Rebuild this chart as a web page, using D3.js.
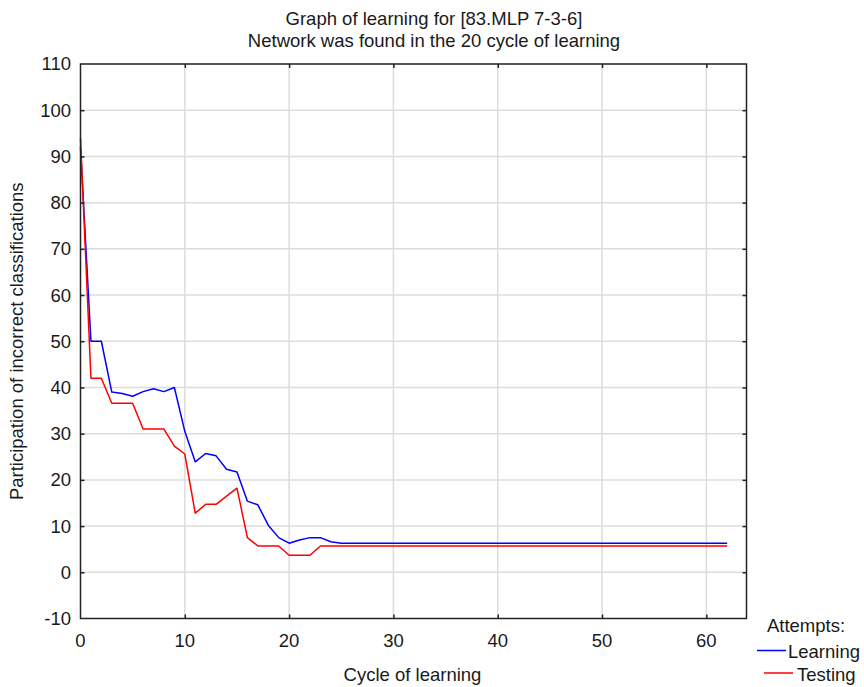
<!DOCTYPE html>
<html><head><meta charset="utf-8">
<script src="https://cdn.jsdelivr.net/npm/d3@7"></script>
<style>body{margin:0;background:#fff}svg{display:block}text{font-family:"Liberation Sans",Arial,sans-serif;fill:#1a1a1a}</style>
</head><body>
<svg id="c" width="864" height="687"></svg>
<script>
const cycles = d3.range(0, 63);
const learning = [92,50,50,39,38.7,38.1,39.1,39.7,39.1,40,30.5,23.9,25.7,25.2,22.3,21.7,15.4,14.6,10.2,7.5,6.3,7,7.5,7.5,6.6,6.3].concat(Array(37).fill(6.3));
const testing = [94,42,42,36.6,36.6,36.6,31,31,31,27.3,25.6,12.8,14.7,14.7,16.5,18.2,7.5,5.7,5.7,5.7,3.7,3.7,3.7,5.7].concat(Array(39).fill(5.7));
const xTicks = [0,10,20,30,40,50,60];
const yTicks = [-10,0,10,20,30,40,50,60,70,80,90,100,110];
const titleLines = ["Graph of learning for [83.MLP 7-3-6]","Network was found in the 20 cycle of learning"];
const xLabel = "Cycle of learning";
const yLabel = "Participation of incorrect classifications";
const legendTitle = "Attempts:";
const seriesNames = ["Learning","Testing"];
const seriesColors = ["#0000ff","#ff0000"];

const svg = d3.select("#c");
const L=80.5, R=746.5, T=64, B=618.5;
const x = d3.scaleLinear().domain([0,63.85]).range([L,R]);
const y = d3.scaleLinear().domain([-10,110]).range([B,T]);
const fs = 18.5;

// grid
svg.append("g").selectAll("line").data(xTicks.filter(d=>d>0)).join("line")
  .attr("x1",d=>x(d)).attr("x2",d=>x(d)).attr("y1",T).attr("y2",B)
  .attr("stroke","#dcdcdc").attr("stroke-width",1.5);
svg.append("g").selectAll("line").data(yTicks.filter(d=>d>-10&&d<110)).join("line")
  .attr("y1",d=>y(d)).attr("y2",d=>y(d)).attr("x1",L).attr("x2",R)
  .attr("stroke","#dcdcdc").attr("stroke-width",1.5);

// lines
const series=[learning,testing];
series.forEach((s,i)=>{
  svg.append("path").datum(s.map((v,j)=>[cycles[j],v]))
    .attr("fill","none").attr("stroke",seriesColors[i]).attr("stroke-width",1.5)
    .attr("stroke-linejoin","round")
    .attr("d",d3.line().x(d=>x(d[0])).y(d=>y(d[1])));
});

// axes with inward ticks
const ax = (g,axis)=>{g.call(axis); g.select(".domain").remove(); g.selectAll("line").attr("stroke","#222").attr("stroke-width",1.5); g.selectAll("text").remove();};
svg.append("g").attr("transform",`translate(0,${B})`).call(g=>ax(g,d3.axisBottom(x).tickValues(xTicks.filter(d=>d>0)).tickSizeInner(-4)));
svg.append("g").attr("transform",`translate(0,${T})`).call(g=>ax(g,d3.axisTop(x).tickValues(xTicks.filter(d=>d>0)).tickSizeInner(-4)));
svg.append("g").attr("transform",`translate(${L},0)`).call(g=>ax(g,d3.axisLeft(y).tickValues(yTicks.filter(d=>d>-10&&d<110)).tickSizeInner(-4)));
svg.append("g").attr("transform",`translate(${R},0)`).call(g=>ax(g,d3.axisRight(y).tickValues(yTicks.filter(d=>d>-10&&d<110)).tickSizeInner(-4)));

// frame
svg.append("rect").attr("x",L).attr("y",T).attr("width",R-L).attr("height",B-T)
  .attr("fill","none").attr("stroke","#222").attr("stroke-width",1.5);

// tick labels
svg.append("g").selectAll("text").data(xTicks).join("text")
  .attr("x",d=>x(d)).attr("y",647).attr("text-anchor","middle").attr("font-size",fs).text(d=>d);
svg.append("g").selectAll("text").data(yTicks).join("text")
  .attr("x",71).attr("y",d=>y(d)).attr("dy","0.35em").attr("text-anchor","end").attr("font-size",fs).text(d=>d);

// titles
svg.append("g").selectAll("text").data(titleLines).join("text")
  .attr("x",434).attr("y",(d,i)=>25+i*21.5).attr("text-anchor","middle").attr("font-size",fs).text(d=>d);
svg.append("text").attr("x",412.5).attr("y",681).attr("text-anchor","middle").attr("font-size",fs).text(xLabel);
svg.append("text").attr("transform",`translate(23,${(T+B)/2}) rotate(-90)`).attr("text-anchor","middle").attr("font-size",fs).text(yLabel);

// legend
svg.append("text").attr("x",806).attr("y",632).attr("text-anchor","middle").attr("font-size",fs).text(legendTitle);
const lg=[{x1:757,x2:786,y:650.5,tx:788,ty:658},{x1:764,x2:793,y:673,tx:797,ty:680.5}];
lg.forEach((p,i)=>{
  svg.append("line").attr("x1",p.x1).attr("x2",p.x2).attr("y1",p.y).attr("y2",p.y).attr("stroke",seriesColors[i]).attr("stroke-width",1.5);
  svg.append("text").attr("x",p.tx).attr("y",p.ty).attr("font-size",fs).text(seriesNames[i]);
});
</script>
</body></html>
